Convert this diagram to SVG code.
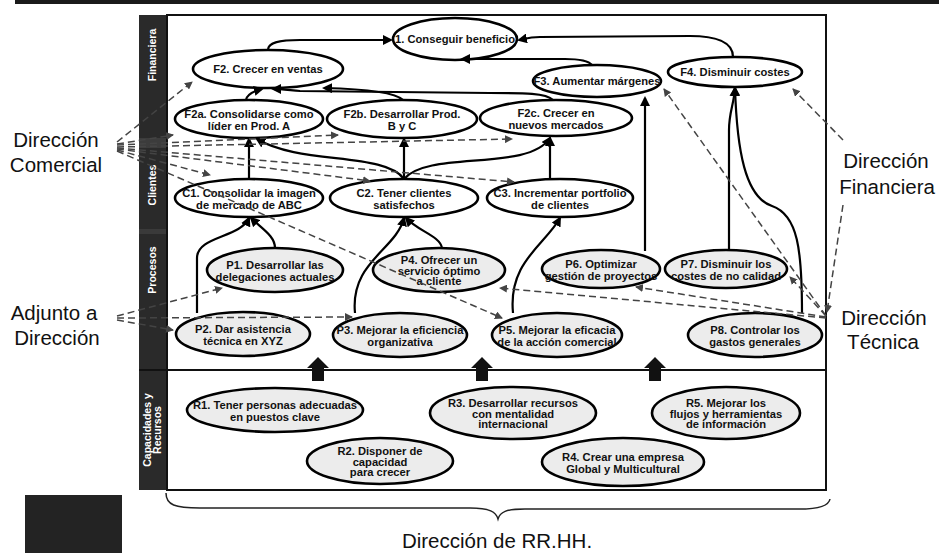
<svg xmlns="http://www.w3.org/2000/svg" width="939" height="553" viewBox="0 0 939 553">
<style>
.n ellipse{fill:#ffffff;stroke:#000;stroke-width:2.6}
.g ellipse{fill:#ececec}
.n text{font-family:"Liberation Sans",Arial,sans-serif;font-weight:bold;font-size:11.2px;fill:#111;text-anchor:middle}
.s{fill:none;stroke:#000;stroke-width:2.2;marker-end:url(#ah)}
.d{fill:none;stroke:#444;stroke-width:1.5;stroke-dasharray:7 4;marker-end:url(#dh)}
.lab{font-family:"Liberation Sans",Arial,sans-serif;font-size:20.5px;fill:#111;text-anchor:middle}
.side{font-family:"Liberation Sans",Arial,sans-serif;font-weight:bold;font-size:10.5px;fill:#fff;text-anchor:middle}
.big{fill:#111}
</style>
<defs>
<marker id="ah" markerWidth="10" markerHeight="10" refX="8" refY="5" orient="auto" markerUnits="userSpaceOnUse"><path d="M0,0 L10,5 L0,10 z" fill="#000"/></marker>
<marker id="dh" markerWidth="8" markerHeight="8" refX="7" refY="4" orient="auto" markerUnits="userSpaceOnUse"><path d="M0,0 L8,4 L0,8 z" fill="#444"/></marker>
</defs>
<rect x="0" y="0" width="939" height="553" fill="#fff"/>
<rect x="15" y="0" width="924" height="4" fill="#1a1a1a"/>
<g id="frame">
<rect x="139" y="15" width="28" height="475" fill="#2a2a2a"/>
<rect x="139" y="138" width="28" height="10" fill="#3c3c3c"/>
<rect x="139" y="229" width="28" height="5" fill="#3a3a3a"/>
<rect x="167" y="15" width="659" height="475" fill="none" stroke="#111" stroke-width="2"/>
<line x1="139" y1="370" x2="826" y2="370" stroke="#111" stroke-width="2"/>
<text class="side" transform="translate(156,55) rotate(-90)">Financiera</text>
<text class="side" transform="translate(156,185) rotate(-90)">Clientes</text>
<text class="side" transform="translate(156,270) rotate(-90)">Procesos</text>
<text class="side" transform="translate(151,430) rotate(-90)">Capacidades y</text>
<text class="side" transform="translate(161,430) rotate(-90)">Recursos</text>
</g>
<g id="bigarrows">
<polygon class="big" points="307,368 318,357 329,368 324,368 324,381 312,381 312,368"/>
<polygon class="big" points="471,368 482,357 493,368 488,368 488,381 476,381 476,368"/>
<polygon class="big" points="644,368 655,357 666,368 661,368 661,381 649,381 649,368"/>
</g>
<g id="n1" class="n"><ellipse cx="455" cy="39" rx="62" ry="21"/><text x="455" y="43">1. Conseguir beneficio</text></g>
<g id="F2" class="n"><ellipse cx="268" cy="69" rx="75" ry="19"/><text x="268" y="73">F2. Crecer en  ventas</text></g>
<g id="F3" class="n"><ellipse cx="597" cy="81" rx="64" ry="16"/><text x="597" y="85">F3. Aumentar márgenes</text></g>
<g id="F4" class="n"><ellipse cx="735" cy="72" rx="67" ry="15"/><text x="735" y="76">F4. Disminuir costes</text></g>
<g id="F2a" class="n"><ellipse cx="249" cy="119" rx="74" ry="19"/><text x="249" y="118">F2a. Consolidarse como</text><text x="249" y="129.5">líder en Prod. A</text></g>
<g id="F2b" class="n"><ellipse cx="402" cy="119" rx="75" ry="19"/><text x="402" y="118">F2b. Desarrollar Prod.</text><text x="402" y="129.5">B y C</text></g>
<g id="F2c" class="n"><ellipse cx="556" cy="118" rx="76" ry="18"/><text x="556" y="117">F2c. Crecer en</text><text x="556" y="128.5">nuevos mercados</text></g>
<g id="C1" class="n"><ellipse cx="249" cy="198" rx="74" ry="19"/><text x="249" y="197">C1. Consolidar la imagen</text><text x="249" y="208.5">de mercado de ABC</text></g>
<g id="C2" class="n"><ellipse cx="404" cy="198" rx="74" ry="19"/><text x="404" y="197">C2. Tener clientes</text><text x="404" y="208.5">satisfechos</text></g>
<g id="C3" class="n"><ellipse cx="560" cy="198" rx="73" ry="19"/><text x="560" y="197">C3. Incrementar portfolio</text><text x="560" y="208.5">de clientes</text></g>
<g id="P1" class="n g"><ellipse cx="275" cy="270" rx="68" ry="22"/><text x="275" y="269">P1. Desarrollar las</text><text x="275" y="280.5">delegaciones actuales</text></g>
<g id="P4" class="n g"><ellipse cx="439" cy="270" rx="66" ry="22"/><text x="439" y="264">P4. Ofrecer un</text><text x="439" y="274.5">servicio óptimo</text><text x="439" y="285">a cliente</text></g>
<g id="P6" class="n g"><ellipse cx="601" cy="269" rx="59" ry="19"/><text x="601" y="268">P6. Optimizar</text><text x="601" y="279.5">gestión de proyectos</text></g>
<g id="P7" class="n g"><ellipse cx="726" cy="269" rx="61" ry="19"/><text x="726" y="268">P7. Disminuir los</text><text x="726" y="279.5">costes de no calidad</text></g>
<g id="P2" class="n g"><ellipse cx="243" cy="334" rx="67" ry="22"/><text x="243" y="333">P2. Dar asistencia</text><text x="243" y="344.5">técnica en XYZ</text></g>
<g id="P3" class="n g"><ellipse cx="400" cy="335" rx="67" ry="22"/><text x="400" y="334">P3. Mejorar la eficiencia</text><text x="400" y="345.5">organizativa</text></g>
<g id="P5" class="n g"><ellipse cx="557" cy="335" rx="65" ry="22"/><text x="557" y="334">P5. Mejorar la eficacia</text><text x="557" y="345.5">de la acción comercial</text></g>
<g id="P8" class="n g"><ellipse cx="755" cy="335" rx="67" ry="22"/><text x="755" y="334">P8. Controlar los</text><text x="755" y="345.5">gastos generales</text></g>
<g id="R1" class="n g"><ellipse cx="275" cy="410" rx="88" ry="22"/><text x="275" y="409">R1. Tener personas adecuadas</text><text x="275" y="420.5">en puestos clave</text></g>
<g id="R2" class="n g"><ellipse cx="380" cy="461" rx="73" ry="23"/><text x="380" y="455">R2. Disponer de</text><text x="380" y="465.5">capacidad</text><text x="380" y="476">para crecer</text></g>
<g id="R3" class="n g"><ellipse cx="513" cy="413" rx="83" ry="26"/><text x="513" y="407">R3. Desarrollar recursos</text><text x="513" y="417.5">con mentalidad</text><text x="513" y="428">internacional</text></g>
<g id="R4" class="n g"><ellipse cx="623" cy="462" rx="81" ry="24"/><text x="623" y="461">R4. Crear una empresa</text><text x="623" y="472.5">Global y Multicultural</text></g>
<g id="R5" class="n g"><ellipse cx="726" cy="413" rx="74" ry="26"/><text x="726" y="407">R5. Mejorar los</text><text x="726" y="417.5">flujos y herramientas</text><text x="726" y="428">de información</text></g>
<g id="connectors">
<path class="s" d="M268,50 C268,43 278,40 300,40 L391,40"/>
<path class="s" d="M733,57 C733,42 715,36 690,36 L540,37 C530,37 524,39 519,40"/>
<path class="s" d="M592,65 C588,60 578,59 565,59 L462,59"/>
<path class="s" d="M246,100 C247,94 254,91 262,89"/>
<path class="s" d="M553,100 C546,93 525,93 490,93 L300,91 C288,90 280,89 273,89"/>
<path class="s" d="M403,100 C396,93 365,89 324,88"/>
<path class="s" d="M249,179 L249,139"/>
<path class="s" d="M404,179 C385,152 300,165 257,139"/>
<path class="s" d="M404,179 L404,139"/>
<path class="s" d="M404,179 C428,150 528,172 550,138"/>
<path class="s" d="M550,180 L550,138"/>
<path class="s" d="M275,248 C275,236 262,229 251,218"/>
<path class="s" d="M197,313 L197,258 C197,236 240,238 249,218"/>
<path class="s" d="M355,313 C350,262 396,250 404,218"/>
<path class="s" d="M442,248 C440,236 418,231 406,218"/>
<path class="s" d="M513,313 C508,262 545,245 560,218"/>
<path class="s" d="M645,251 L645,98"/>
<path class="s" d="M729,250 L729,130 C729,112 734,104 735,88"/>
<path class="s" d="M802,313 C802,250 798,215 772,206 C745,197 737,150 735,88"/>
<path class="d" d="M117,142 L192,82"/>
<path class="d" d="M117,144 L173,135"/>
<path class="d" d="M117,145 L338,135"/>
<path class="d" d="M117,147 L512,139"/>
<path class="d" d="M117,149 L370,181"/>
<path class="d" d="M117,148 L514,182"/>
<path class="d" d="M117,150 L210,175"/>
<path class="d" d="M117,151 L502,318"/>
<path class="d" d="M117,316 L222,288"/>
<path class="d" d="M117,320 L173,330"/>
<path class="d" d="M117,318 L352,317"/>
<path class="d" d="M826,316 L664,89"/>
<path class="d" d="M826,316 L790,277"/>
<path class="d" d="M826,317 L636,287"/>
<path class="d" d="M826,318 L500,288"/>
<path class="d" d="M843,205 L827,312"/>
<path class="d" d="M843,140 L793,89"/>
</g>
<g id="brace">
<path d="M166,493 C166,505 175,508 200,508 L470,508 C490,508 496,512 498,519 C500,512 506,509 525,509 L800,509 C822,509 829,505 830,499" fill="none" stroke="#222" stroke-width="1.5"/>
</g>
<g id="labels">
<text class="lab" x="56" y="147">Dirección</text>
<text class="lab" x="56" y="172">Comercial</text>
<text class="lab" x="54" y="320">Adjunto a</text>
<text class="lab" x="57" y="345">Dirección</text>
<text class="lab" x="886" y="168">Dirección</text>
<text class="lab" x="887" y="194">Financiera</text>
<text class="lab" x="884" y="325">Dirección</text>
<text class="lab" x="883" y="349">Técnica</text>
<text class="lab" x="497" y="548">Dirección de RR.HH.</text>
</g>
<rect x="25" y="495" width="97" height="58" fill="#232323"/>
</svg>
